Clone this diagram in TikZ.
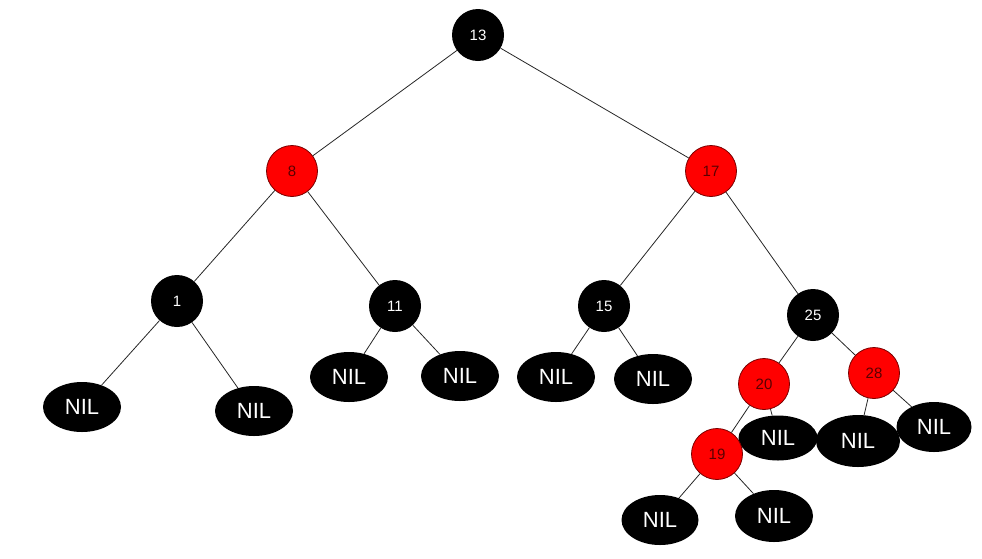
\documentclass[tikz,border=0pt]{standalone}
\usepackage{fontspec}
\setmainfont{Liberation Sans}
\usepackage{xcolor}
\usepackage{tikz}
\usetikzlibrary{shapes.geometric}

\definecolor{rbred}{HTML}{FF0000}
\definecolor{rbedge}{HTML}{7A0000}
\definecolor{rbtext}{HTML}{5A0000}

\begin{document}
\begin{tikzpicture}[x=1pt,y=-1pt,
  every node/.style={inner sep=0pt},
  blk/.style={circle,fill=black,text=white,minimum size=52pt,
    font=\fontsize{15}{15}\selectfont},
  rd/.style={circle,fill=rbred,draw=rbedge,line width=0.8pt,text=rbtext,
    minimum size=51pt,font=\fontsize{15}{15}\selectfont},
  nil/.style={ellipse,fill=black,text=white,minimum width=78pt,minimum height=50pt,
    font=\fontsize{22}{22}\selectfont},
  link/.style={draw=black!85,line width=0.8pt}]
  \useasboundingbox (0,0) rectangle (982,558);

  % inner nodes
  \node[blk] (n13) at (478,35) {13};
  \node[rd]  (n8)  at (292,171) {8};
  \node[rd]  (n17) at (711,171) {17};
  \node[blk] (n1)  at (177,301) {1};
  \node[blk] (n11) at (395,306) {11};
  \node[blk] (n15) at (604,306) {15};
  \node[blk] (n25) at (813,315) {25};
  \node[rd]  (n20) at (764,384) {20};
  \node[rd]  (n28) at (874,373) {28};

  % leaves
  \node[nil] (l1a)  at (82,407)  {NIL};
  \node[nil] (l1b)  at (254,411) {NIL};
  \node[nil] (l11a) at (349,377) {NIL};
  \node[nil] (l11b) at (460,376) {NIL};
  \node[nil] (l15a) at (556,377) {NIL};
  \node[nil] (l15b) at (653,379) {NIL};
  \node[nil,minimum width=79pt,minimum height=45pt] (l20) at (778,438) {NIL};
  \node[nil,minimum width=75pt] (l28b) at (934,427) {NIL};
  \node[nil,minimum width=84pt,minimum height=52pt] (l28a) at (858,441) {NIL};
  \node[rd]  (n19) at (717,454) {19};
  \node[nil,minimum width=77pt] (l19a) at (660,520) {NIL};
  \node[nil,minimum height=52pt] (l19b) at (774,516) {NIL};

  % edges
  \foreach \p/\c in {n13/n8,n13/n17,n8/n1,n8/n11,n17/n15,n17/n25,
    n1/l1a,n1/l1b,n11/l11a,n11/l11b,n15/l15a,n15/l15b,
    n25/n20,n25/n28,n20/n19,n20/l20,n28/l28a,n28/l28b,n19/l19a,n19/l19b}
    \path[link] (\p) -- (\c);
\end{tikzpicture}
\end{document}
